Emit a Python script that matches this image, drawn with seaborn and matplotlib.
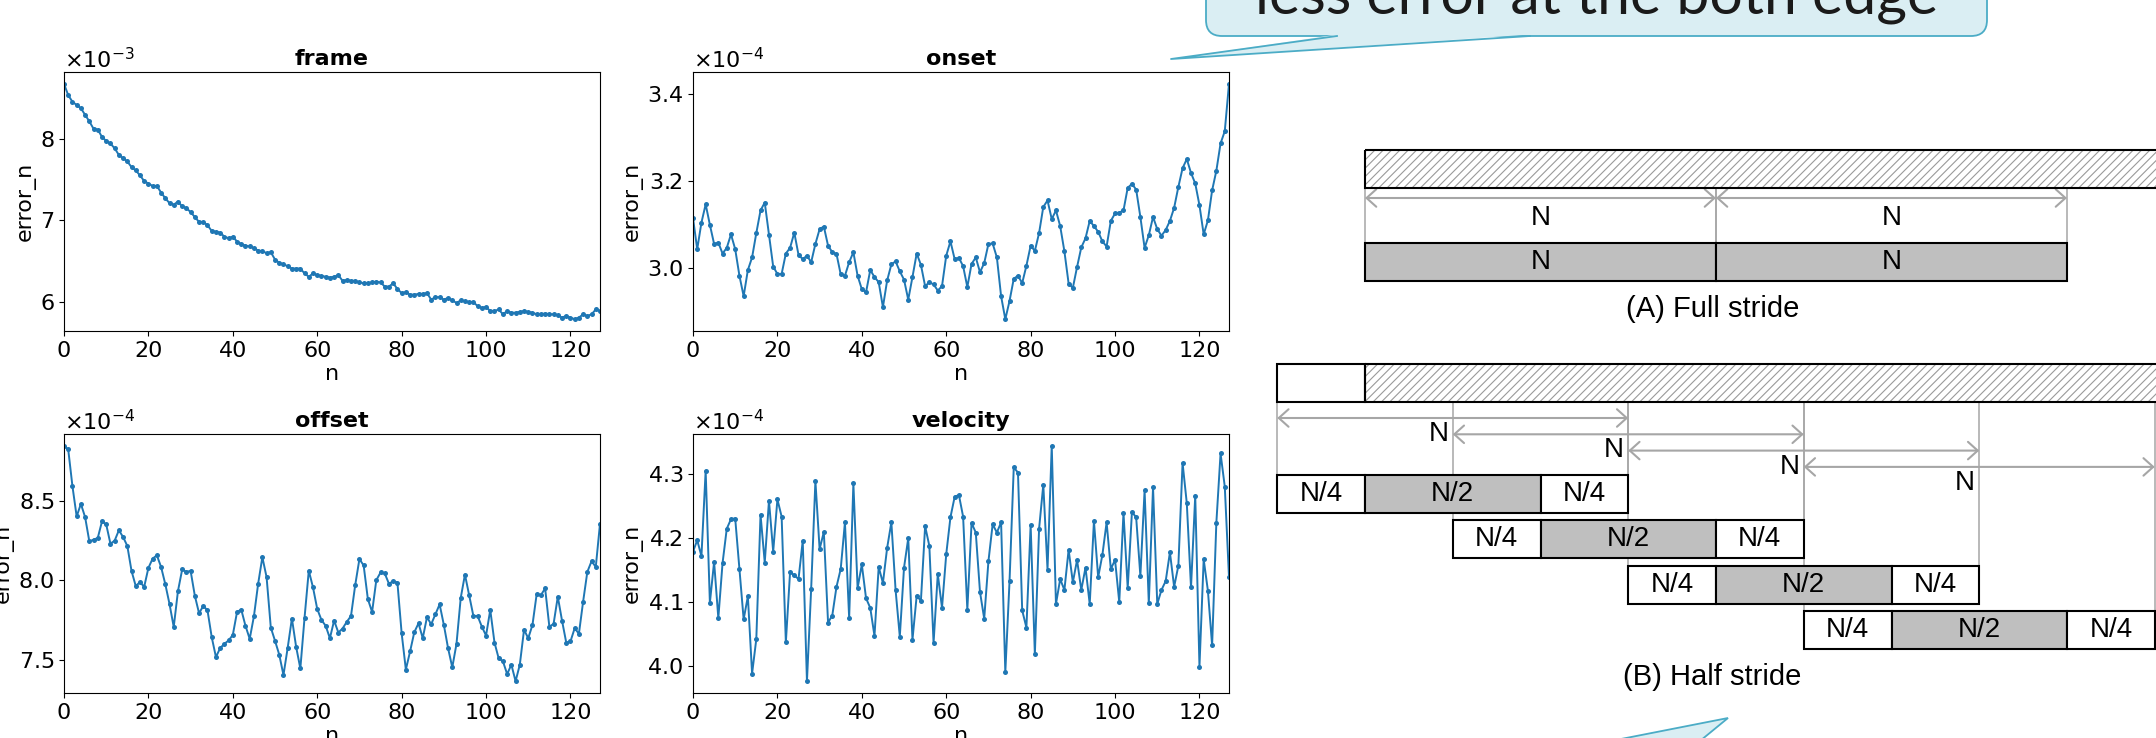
import numpy as np
import matplotlib
matplotlib.use("Agg")
import matplotlib.pyplot as plt
from matplotlib import patches
import seaborn as sns

W, H = 2156, 738

# ---- error curves (n = 0..127) ----
n = np.arange(128)

frame_err = [  # x 1e-3
    8.67, 8.53, 8.45, 8.41, 8.37, 8.29, 8.21, 8.12, 8.11, 8.02,
    7.97, 7.94, 7.88, 7.80, 7.76, 7.72, 7.65, 7.61, 7.55, 7.48,
    7.45, 7.42, 7.42, 7.34, 7.27, 7.21, 7.19, 7.23, 7.17, 7.15,
    7.10, 7.04, 6.98, 6.98, 6.94, 6.87, 6.86, 6.85, 6.80, 6.78,
    6.80, 6.74, 6.71, 6.69, 6.68, 6.66, 6.63, 6.62, 6.60, 6.61,
    6.52, 6.48, 6.46, 6.44, 6.41, 6.41, 6.41, 6.35, 6.31, 6.35,
    6.33, 6.32, 6.31, 6.30, 6.31, 6.33, 6.26, 6.27, 6.26, 6.26,
    6.24, 6.23, 6.23, 6.24, 6.25, 6.24, 6.19, 6.19, 6.23, 6.16,
    6.11, 6.12, 6.09, 6.09, 6.10, 6.10, 6.11, 6.03, 6.06, 6.06,
    6.03, 6.05, 6.02, 5.99, 6.02, 6.01, 6.00, 6.00, 5.95, 5.93,
    5.94, 5.89, 5.89, 5.91, 5.85, 5.89, 5.87, 5.87, 5.88, 5.89,
    5.88, 5.87, 5.85, 5.85, 5.86, 5.85, 5.85, 5.84, 5.81, 5.83,
    5.81, 5.79, 5.81, 5.85, 5.83, 5.85, 5.91, 5.89]

onset_err = [  # x 1e-4
    3.114, 3.043, 3.104, 3.146, 3.099, 3.055, 3.058, 3.033, 3.046, 3.077,
    3.043, 2.982, 2.935, 2.995, 3.024, 3.080, 3.132, 3.150, 3.076, 3.003,
    2.986, 2.986, 3.033, 3.046, 3.081, 3.030, 3.020, 3.028, 3.013, 3.055,
    3.089, 3.095, 3.051, 3.036, 3.032, 2.985, 2.982, 3.013, 3.036, 2.982,
    2.951, 2.944, 2.995, 2.979, 2.967, 2.910, 2.971, 3.008, 3.015, 2.992,
    2.973, 2.927, 2.979, 3.033, 3.007, 2.958, 2.967, 2.962, 2.948, 2.958,
    3.028, 3.061, 3.020, 3.023, 3.004, 2.956, 3.009, 3.024, 2.990, 3.011,
    3.055, 3.056, 3.024, 2.935, 2.882, 2.924, 2.975, 2.982, 2.965, 3.005,
    3.051, 3.039, 3.080, 3.140, 3.155, 3.112, 3.132, 3.096, 3.038, 2.964,
    2.954, 3.002, 3.047, 3.068, 3.108, 3.096, 3.083, 3.061, 3.049, 3.108,
    3.125, 3.127, 3.132, 3.184, 3.193, 3.180, 3.117, 3.046, 3.075, 3.117,
    3.089, 3.074, 3.087, 3.108, 3.138, 3.186, 3.229, 3.250, 3.218, 3.194,
    3.144, 3.077, 3.109, 3.178, 3.223, 3.286, 3.314, 3.423]

offset_err = [  # x 1e-4
    8.844, 8.821, 8.590, 8.400, 8.479, 8.396, 8.244, 8.254, 8.265, 8.369,
    8.350, 8.229, 8.248, 8.313, 8.271, 8.215, 8.058, 7.963, 7.988, 7.958,
    8.077, 8.135, 8.156, 8.083, 7.975, 7.850, 7.706, 7.931, 8.067, 8.052,
    8.058, 7.902, 7.792, 7.838, 7.810, 7.642, 7.517, 7.573, 7.600, 7.621,
    7.656, 7.800, 7.815, 7.713, 7.631, 7.773, 7.977, 8.144, 8.019, 7.702,
    7.619, 7.532, 7.404, 7.575, 7.759, 7.581, 7.445, 7.765, 8.060, 7.954,
    7.819, 7.750, 7.713, 7.635, 7.746, 7.671, 7.696, 7.738, 7.775, 7.969,
    8.133, 8.092, 7.881, 7.800, 8.000, 8.048, 8.042, 7.977, 7.994, 7.985,
    7.667, 7.438, 7.552, 7.673, 7.729, 7.635, 7.767, 7.723, 7.785, 7.848,
    7.719, 7.573, 7.452, 7.600, 7.888, 8.035, 7.904, 7.775, 7.775, 7.708,
    7.652, 7.813, 7.608, 7.508, 7.490, 7.410, 7.469, 7.365, 7.469, 7.688,
    7.635, 7.719, 7.913, 7.906, 7.948, 7.708, 7.725, 7.896, 7.746, 7.608,
    7.615, 7.698, 7.663, 7.865, 8.052, 8.119, 8.083, 8.354]

velocity_err = [  # x 1e-4
    4.179, 4.197, 4.172, 4.306, 4.099, 4.163, 4.075, 4.161, 4.215, 4.230,
    4.231, 4.152, 4.073, 4.109, 3.988, 4.042, 4.237, 4.162, 4.259, 4.179,
    4.261, 4.234, 4.037, 4.147, 4.142, 4.136, 4.196, 3.976, 4.121, 4.290,
    4.183, 4.210, 4.068, 4.079, 4.124, 4.152, 4.225, 4.075, 4.286, 4.122,
    4.159, 4.106, 4.091, 4.047, 4.155, 4.130, 4.185, 4.225, 4.119, 4.046,
    4.154, 4.200, 4.041, 4.110, 4.102, 4.219, 4.188, 4.036, 4.144, 4.091,
    4.175, 4.233, 4.265, 4.268, 4.234, 4.088, 4.224, 4.209, 4.116, 4.074,
    4.164, 4.222, 4.209, 4.225, 3.990, 4.133, 4.311, 4.303, 4.087, 4.060,
    4.221, 4.018, 4.215, 4.284, 4.151, 4.345, 4.097, 4.136, 4.119, 4.182,
    4.131, 4.166, 4.119, 4.154, 4.097, 4.227, 4.139, 4.174, 4.225, 4.152,
    4.166, 4.100, 4.240, 4.122, 4.241, 4.233, 4.141, 4.275, 4.098, 4.280,
    4.097, 4.119, 4.133, 4.178, 4.124, 4.157, 4.318, 4.255, 4.123, 4.267,
    3.999, 4.167, 4.118, 4.032, 4.224, 4.333, 4.281, 4.139]

panel_names = ["frame", "onset", "offset", "velocity"]
panel_data = [frame_err, onset_err, offset_err, velocity_err]
panel_scale = [1e-3, 1e-4, 1e-4, 1e-4]
panel_yticks = [[6, 7, 8], [3.0, 3.2, 3.4], [7.5, 8.0, 8.5], [4.0, 4.1, 4.2, 4.3]]
x_ticks = [0, 20, 40, 60, 80, 100, 120]

# ---- stride diagram, x in units of N ----
full_starts = [0.0, 1.0]
half_starts = [-0.25, 0.25, 0.75, 1.25]
half_parts = ["N/4", "N/2", "N/4"]
half_widths = [0.25, 0.5, 0.25]
half_fills = ["white", "#bfbfbf", "white"]

bubble_text = "less error at the both edge"

fig = plt.figure(figsize=(W / 100, H / 100), dpi=100)
plt.rcParams['hatch.linewidth'] = 0.8

# pixel positions of the four plot panels (left, top)
panel_pos = [(64, 72), (693, 72), (64, 434), (693, 434)]
ax_w, ax_h = 536, 259

for name, vals, scale, yt, (px0, py0) in zip(panel_names, panel_data, panel_scale,
                                              panel_yticks, panel_pos):
    ax = fig.add_axes([px0 / W, 1 - (py0 + ax_h) / H, ax_w / W, ax_h / H])
    sns.lineplot(x=n, y=np.array(vals) * scale, ax=ax, color="#1f77b4",
                 linewidth=1.4, marker="o", markersize=3.6,
                 markeredgewidth=0, markeredgecolor="#1f77b4")
    ax.set_xlim(0, 127)
    ax.set_xticks(x_ticks)
    ax.set_yticks(np.array(yt) * scale)
    ax.ticklabel_format(axis="y", style="sci", scilimits=(0, 0), useMathText=True)
    ax.tick_params(labelsize=16)
    ax.yaxis.get_offset_text().set_fontsize(16)
    ax.set_title(name, fontweight="bold", fontsize=16, pad=5)
    ax.set_xlabel("n", fontsize=16, labelpad=2)
    ax.set_ylabel("error_n", fontsize=16, labelpad=3)

# overlay in pixel coordinates for the diagram and callouts
dg = fig.add_axes([0, 0, 1, 1])
dg.set_xlim(0, W)
dg.set_ylim(H, 0)
dg.axis("off")

x0, N = 1365, 351


def px(u):
    return x0 + u * N


line_gray = "#a6a6a6"
dfont = ["Liberation Sans", "DejaVu Sans"]


def hatched(x_left, y_top, h):
    dg.add_patch(patches.Rectangle((x_left, y_top), W + 20 - x_left, h, facecolor="white",
                                   edgecolor="#9a9a9a", hatch="////", lw=0, zorder=2))
    dg.add_patch(patches.Rectangle((x_left, y_top), W + 20 - x_left, h, fill=False,
                                   edgecolor="black", lw=1.5, zorder=3))


def arrow(xa, xb, y):
    dg.annotate("", xy=(xb, y), xytext=(xa, y),
                arrowprops=dict(arrowstyle="<->,head_length=0.5,head_width=0.45",
                                color=line_gray, lw=1.5, shrinkA=0, shrinkB=0,
                                mutation_scale=14), zorder=2)


# (A) full stride
hatched(px(0), 150, 38)
for s in full_starts:
    for edge in (s, s + 1):
        dg.plot([px(edge), px(edge)], [188, 243], color=line_gray, lw=1.1, zorder=1)
    arrow(px(s), px(s + 1), 198)
    dg.text(px(s + 0.5), 218, "N", ha="center", va="center", fontsize=20, family=dfont)
    dg.add_patch(patches.Rectangle((px(s), 243), N, 38, facecolor="#bfbfbf",
                                   edgecolor="black", lw=1.5, zorder=3))
    dg.text(px(s + 0.5), 262, "N", ha="center", va="center", fontsize=20,
            family=dfont, zorder=4)
dg.text(1713, 309, "(A) Full stride", ha="center", va="center", fontsize=21, family=dfont)

# (B) half stride
dg.add_patch(patches.Rectangle((px(-0.25), 364), px(0) - px(-0.25), 38, facecolor="white",
                               edgecolor="black", lw=1.5, zorder=3))
hatched(px(0), 364, 38)
for i, s in enumerate(half_starts):
    y_arr = 418 + 16.3 * i
    row_top = 475 + 45.3 * i
    for edge in (s, s + 1):
        dg.plot([px(edge), px(edge)], [402, row_top], color=line_gray, lw=1.1, zorder=1)
    arrow(px(s), px(s + 1), y_arr)
    dg.text(px(s + 0.46), y_arr + 16, "N", ha="center", va="center", fontsize=20, family=dfont)
    left = s
    for lab, wid, fc in zip(half_parts, half_widths, half_fills):
        dg.add_patch(patches.Rectangle((px(left), row_top), wid * N, 38, facecolor=fc,
                                       edgecolor="black", lw=1.5, zorder=3))
        dg.text(px(left + wid / 2), row_top + 19, lab, ha="center", va="center",
                fontsize=20, family=dfont, zorder=4)
        left += wid
dg.text(1712, 677, "(B) Half stride", ha="center", va="center", fontsize=21, family=dfont)

# callout bubbles
b_face, b_edge = "#DAEEF3", "#4BACC6"
dg.add_patch(patches.FancyBboxPatch((1206, -100), 781, 136,
                                    boxstyle="round,pad=0,rounding_size=16",
                                    facecolor=b_face, edgecolor=b_edge, lw=1.3, zorder=5))
dg.add_patch(patches.Polygon([(1337, 34.5), (1171, 59), (1530, 34.5)], closed=True,
                             facecolor=b_face, edgecolor="none", zorder=6))
dg.plot([1337, 1171, 1530], [36, 59, 36], color=b_edge, lw=1.3, zorder=7)
dg.add_patch(patches.Polygon([(1565, 750), (1728, 718), (1689, 750)], closed=True,
                             facecolor=b_face, edgecolor=b_edge, lw=1.3, zorder=5))

t = dg.text(1597, 14, bubble_text, ha="center", va="baseline", fontsize=40,
            family=["Lato", "DejaVu Sans"], color="#1a1a1a", zorder=8)
fig.canvas.draw()
w = t.get_window_extent().width
t.set_fontsize(40 * 683 / w)

fig.savefig("out.png", dpi=100)
